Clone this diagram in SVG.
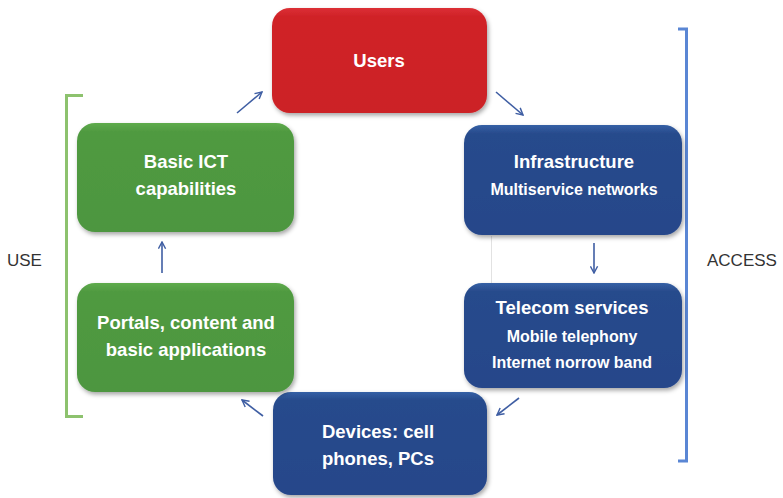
<svg xmlns="http://www.w3.org/2000/svg" width="783" height="498" viewBox="0 0 783 498">
<style>
.t{font-family:"Liberation Sans",Arial,sans-serif;fill:#ffffff;text-anchor:middle;font-weight:bold}
.m{font-size:18.5px}
.s{font-size:16px}
.lbl{font-family:"Liberation Sans",Arial,sans-serif;fill:#333333;font-size:17px}
.con{stroke:#3f5ea3;stroke-width:1.6;fill:none;marker-end:url(#ah)}
</style>
<defs>
<marker id="ah" viewBox="0 0 10 10" refX="8.5" refY="5" markerWidth="9" markerHeight="9" markerUnits="userSpaceOnUse" orient="auto">
<path d="M1,1 L8.5,5 L1,9" fill="none" stroke="#3f5ea3" stroke-width="1.6"/>
</marker>
<linearGradient id="gr" x1="0" y1="0" x2="0" y2="1"><stop offset="0" stop-color="#dc3035"/><stop offset="0.08" stop-color="#d02228"/><stop offset="1" stop-color="#cc2026"/></linearGradient>
<linearGradient id="gb" x1="0" y1="0" x2="0" y2="1"><stop offset="0" stop-color="#3560a5"/><stop offset="0.08" stop-color="#284b8c"/><stop offset="1" stop-color="#25468a"/></linearGradient>
<linearGradient id="gg" x1="0" y1="0" x2="0" y2="1"><stop offset="0" stop-color="#5eab4c"/><stop offset="0.08" stop-color="#509a41"/><stop offset="1" stop-color="#4d963f"/></linearGradient>
<filter id="sh" x="-10%" y="-10%" width="125%" height="130%"><feDropShadow dx="1.5" dy="2.5" stdDeviation="2" flood-color="#000" flood-opacity="0.35"/></filter>
</defs>
<rect width="783" height="498" fill="#ffffff"/>
<line x1="491.5" y1="236" x2="491.5" y2="283" stroke="#e2e2e2" stroke-width="1"/>
<g id="bracket-use"><path d="M83,95.5 H66.5 V416.5 H83" fill="none" stroke="#8dc26e" stroke-width="3"/></g>
<g id="bracket-access"><path d="M678,29 H686.5 V461 H678" fill="none" stroke="#5a86d4" stroke-width="3"/></g>
<text class="lbl" x="7" y="266">USE</text>
<text class="lbl" x="707" y="266">ACCESS</text>
<g id="users"><rect x="272" y="8" width="215" height="105" rx="18" fill="url(#gr)" filter="url(#sh)"/><text class="t m" x="379" y="67">Users</text></g>
<g id="infrastructure"><rect x="464" y="125" width="218" height="110" rx="18" fill="url(#gb)" filter="url(#sh)"/><text class="t m" x="574" y="168">Infrastructure</text><text class="t s" x="574" y="195">Multiservice networks</text></g>
<g id="telecom"><rect x="464" y="283" width="218" height="105" rx="18" fill="url(#gb)" filter="url(#sh)"/><text class="t m" x="572" y="314">Telecom services</text><text class="t s" x="572" y="342">Mobile telephony</text><text class="t s" x="572" y="368">Internet norrow band</text></g>
<g id="devices"><rect x="273" y="392" width="214" height="103" rx="18" fill="url(#gb)" filter="url(#sh)"/><text class="t m" x="378" y="438">Devices: cell</text><text class="t m" x="378" y="465">phones, PCs</text></g>
<g id="portals"><rect x="77" y="283" width="217" height="109" rx="18" fill="url(#gg)" filter="url(#sh)"/><text class="t m" x="186" y="329">Portals, content and</text><text class="t m" x="186" y="356">basic applications</text></g>
<g id="basic-ict"><rect x="77" y="123" width="217" height="109" rx="18" fill="url(#gg)" filter="url(#sh)"/><text class="t m" x="186" y="168">Basic ICT</text><text class="t m" x="186" y="195">capabilities</text></g>
<g id="connectors">
<path class="con" d="M237,113 L262,92"/>
<path class="con" d="M496,92 L523,115"/>
<path class="con" d="M594,243 L594,273"/>
<path class="con" d="M519,398 L497,415"/>
<path class="con" d="M263,416 L242,400"/>
<path class="con" d="M162,273 L162,242"/>
</g>
</svg>
